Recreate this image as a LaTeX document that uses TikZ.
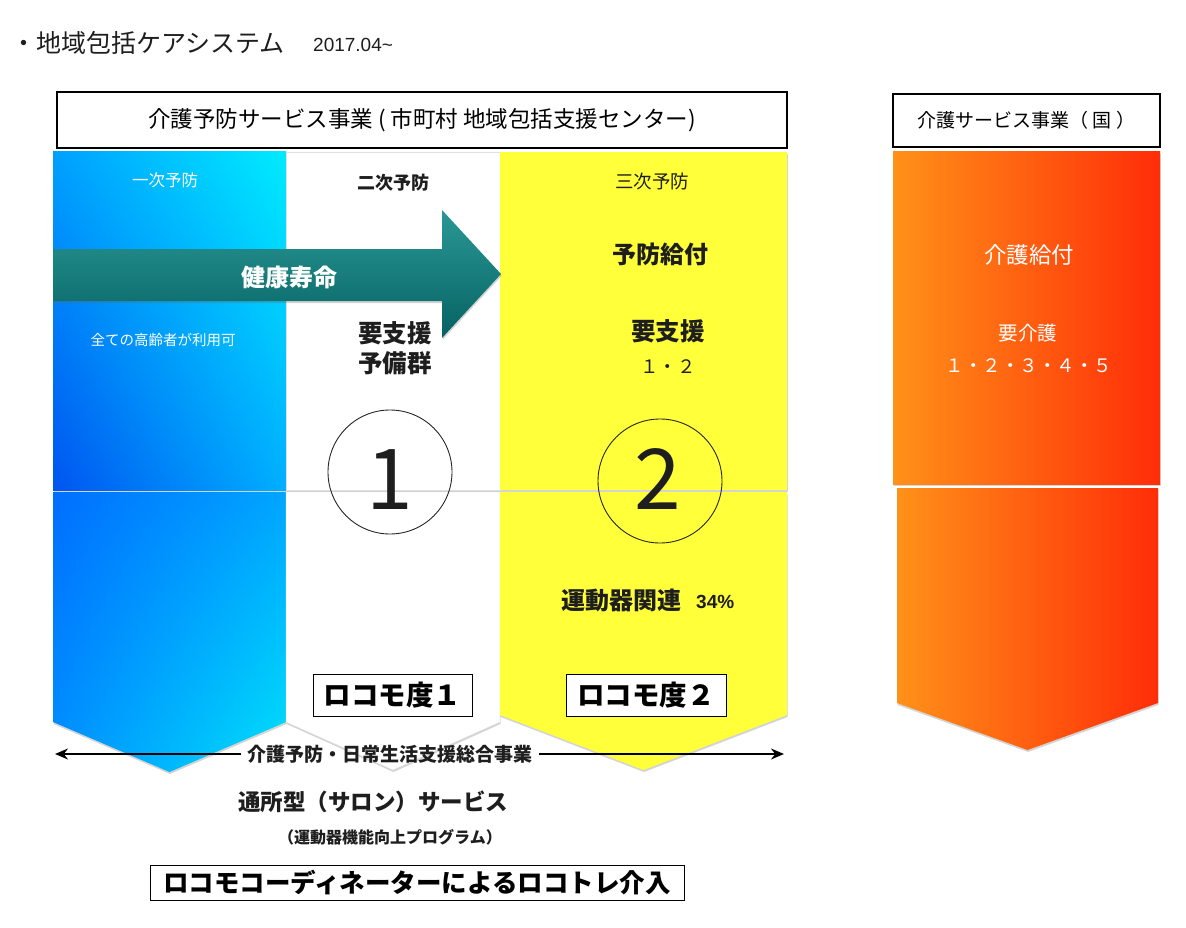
\documentclass[tikz,border=0pt]{standalone}
\usepackage{fontspec}
\setmainfont{Noto Sans CJK JP}
\newfontfamily\latn{Liberation Sans}
\usetikzlibrary{shadows,shadings,arrows.meta}
\newcommand\fsz[1]{\fontsize{#1}{#1}\selectfont}
\definecolor{tealA}{RGB}{42,152,150}
\definecolor{tealB}{RGB}{6,98,98}
\definecolor{yel}{RGB}{255,255,58}
\definecolor{orgA}{RGB}{255,145,25}
\definecolor{orgB}{RGB}{255,45,8}
\definecolor{bUL}{RGB}{0,160,255}
\definecolor{bUR}{RGB}{0,235,255}
\definecolor{bLL}{RGB}{0,85,240}
\definecolor{bLR}{RGB}{0,175,255}
\definecolor{cUL}{RGB}{0,110,255}
\definecolor{cUR}{RGB}{0,165,255}
\definecolor{cLL}{RGB}{0,145,255}
\definecolor{cLR}{RGB}{0,225,250}
\definecolor{txt}{RGB}{30,30,30}
\begin{document}
\begin{tikzpicture}[x=1pt,y=-1pt,
  shd/.style={drop shadow={opacity=0.28,shadow xshift=0.5pt,shadow yshift=-2pt,fill=black!60}},
  lbl/.style={inner sep=0pt,text=txt},
  wlbl/.style={inner sep=0pt,text=white},
  hbox/.style={draw=black,line width=1.4pt,fill=white,inner sep=0pt},
  tbox/.style={draw=black,line width=1pt,fill=white,inner sep=0pt},
  ring/.style={draw=black!85,line width=0.9pt},
  dbl/.style={line width=2pt,-{Stealth[length=13pt,width=11pt]}}]
\useasboundingbox (0,0) rectangle (1186,928);
\fill[white] (0,0) rectangle (1186,928);

% title
\node[lbl,anchor=west] (title) at (11,43) {\fsz{25}・地域包括ケアシステム};
\node[lbl,anchor=west] (date) at (313,45) {\latn\fsz{19}2017.04\char`~};

% headers
\node[hbox,minimum width=730pt,minimum height=56pt] (h1) at (422,120) {\fsz{22.5}介護予防サービス事業 ( 市町村 地域包括支援センター)};
\node[hbox,minimum width=267pt,minimum height=53pt] (h2) at (1026.5,120.5) {\fsz{19}介護サービス事業（ 国 ）};

% lower chevrons
\path[shd,upper left=cUL,upper right=cUR,lower left=cLL,lower right=cLR]
  (53,492) -- (286,492) -- (286,722) -- (169.5,772) -- (53,722) -- cycle;
\path[shd,fill=white,draw=black!12]
  (286,492) -- (500,492) -- (500,722) -- (393,770) -- (286,722) -- cycle;
\path[shd,fill=yel]
  (500,492) -- (787,492) -- (787,715) -- (643.5,770) -- (500,715) -- cycle;
\path[shd,left color=orgA,right color=orgB]
  (897,488) -- (1158,488) -- (1158,703) -- (1027.5,750) -- (897,703) -- cycle;

% upper blocks
\path[shd,upper left=bUL,upper right=bUR,lower left=bLL,lower right=bLR] (53,152) rectangle (286,490);
\path[shd,fill=white,draw=black!12] (286,152) rectangle (500,490);
\path[shd,fill=yel] (500,152) rectangle (787,490);
\path[shd,left color=orgA,right color=orgB] (893,152) rectangle (1160,484);

% big arrow
\path[shd,top color=tealA,bottom color=tealB]
  (53,249) -- (442,249) -- (442,210) -- (501,274) -- (442,338) -- (442,301) -- (53,301) -- cycle;
\node[wlbl] (kenko) at (289,277) {\fsz{24}\bfseries 健康寿命};

% column texts
\node[wlbl] (p1) at (165,180) {\fsz{16.5}一次予防};
\node[wlbl] (all) at (163,340) {\fsz{14.5}全ての高齢者が利用可};
\node[lbl] (p2) at (393,183) {\fsz{18}\bfseries 二次予防};
\node[lbl] (ys1) at (395,333) {\fsz{24.5}\bfseries 要支援};
\node[lbl] (yb) at (395,363) {\fsz{24.5}\bfseries 予備群};
\node[lbl] (p3) at (652,181) {\fsz{18.5}三次予防};
\node[lbl] (yk) at (660,254) {\fsz{24}\bfseries 予防給付};
\node[lbl] (ys2) at (668,331) {\fsz{24.5}\bfseries 要支援};
\node[lbl] (n12) at (668,367) {\fsz{18.5}１・２};
\node[wlbl] (kk) at (1029,255) {\fsz{22.5}介護給付};
\node[wlbl] (yc) at (1028,333) {\fsz{19.5}要介護};
\node[wlbl] (n15) at (1029,366) {\fsz{18.5}１・２・３・４・５};

% circles
\draw[ring] (390,472) circle (62);
\node[lbl] (one) at (390,480) {\fsz{84}1};
\draw[ring] (660,481) circle (62);
\node[lbl] (two) at (658,479) {\fsz{84}2};

\node[lbl,anchor=east] (und) at (682,600) {\fsz{24}\bfseries 運動器関連};
\node[lbl,anchor=west] (pct) at (696,602) {\latn\fsz{19}\bfseries 34\%};

% locomo boxes
\node[tbox,minimum width=159pt,minimum height=42pt] (lc1) at (392.5,695) {\fsz{27.5}\bfseries ロコモ度１};
\node[tbox,minimum width=160pt,minimum height=42pt] (lc2) at (646,695) {\fsz{27.5}\bfseries ロコモ度２};

% double arrow
\coordinate (aL) at (55,754);
\coordinate (aR) at (784,754);
\node[lbl,inner xsep=6pt] (sogo) at (390,754) {\fsz{19}\bfseries 介護予防・日常生活支援総合事業};
\draw[dbl] (sogo.west) -- (aL);
\draw[dbl] (sogo.east) -- (aR);

% bottom texts
\node[lbl] (tsusho) at (373,802) {\fsz{22.5}\bfseries 通所型（サロン）サービス};
\node[lbl] (prog) at (390,837) {\fsz{16}\bfseries （運動器機能向上プログラム）};
\node[tbox,minimum width=534pt,minimum height=35pt] (coord) at (417,882.5) {\fsz{25.5}\bfseries ロコモコーディネーターによるロコトレ介入};
\end{tikzpicture}
\end{document}
